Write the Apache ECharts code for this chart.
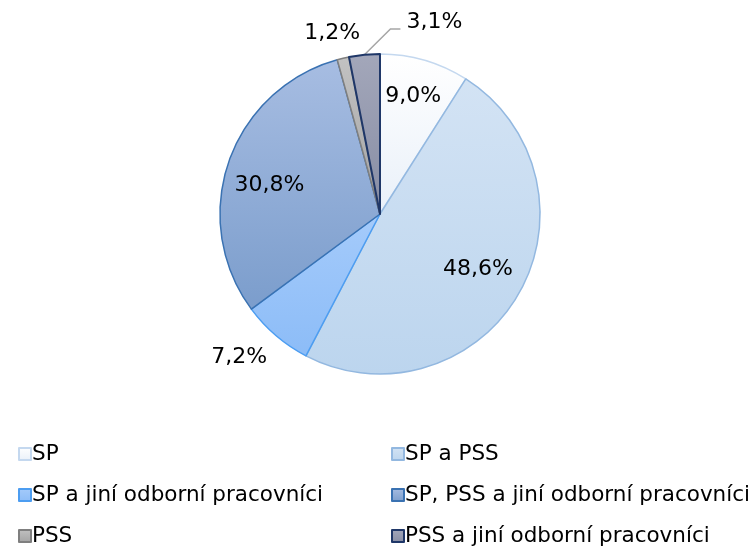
<!DOCTYPE html>
<html>
<head>
<meta charset="utf-8">
<script src="https://cdn.jsdelivr.net/npm/echarts@6/dist/echarts.min.js"></script>
<style>
html,body{margin:0;padding:0;background:#fff;}
#chart{width:755px;height:547px;}
</style>
</head>
<body>
<div id="chart"></div>
<script>
// kategorie a podily (%)
var categories = ['SP', 'SP a PSS', 'SP a jiní odborní pracovníci', 'SP, PSS a jiní odborní pracovníci', 'PSS', 'PSS a jiní odborní pracovníci'];
var values = [9.0, 48.6, 7.2, 30.8, 1.2, 3.1];
var labelsText = ['9,0%', '48,6%', '7,2%', '30,8%', '1,2%', '3,1%'];

// barvy: [nahore, dole, okraj]
var sliceColors = [
	['#ffffff', '#e9f0f9', '#c4d8ef'],
	['#d3e3f4', '#bcd5ee', '#93b8e0'],
	['#a5cbfb', '#8cbcf7', '#4c9df1'],
	['#a7bde2', '#7b9dcc', '#3a72b2'],
	['#c2c2c2', '#a3a3a3', '#7f7f7f'],
	['#a3a7ba', '#878da4', '#1f3768']
];

var insideIdx = [0, 1, 3];
var FONT = 'DejaVu Sans';
var CENTER = [380, 214];
var R = 160;

function grad(c){
	return {type:'linear', x:0, y:0, x2:0, y2:1, colorStops:[{offset:0,color:c[0]},{offset:1,color:c[1]}]};
}

var mainData = [];
var overlayData = [];
for (var i = 0; i < categories.length; i++) {
	var inside = insideIdx.indexOf(i) >= 0;
	mainData.push({
		name: categories[i],
		value: values[i],
		itemStyle: {color: grad(sliceColors[i]), borderColor: sliceColors[i][2], borderWidth: i == 5 ? 2 : 1.5},
		label: {show: !inside},
		labelLine: {show: i == 5, length: i == 2 ? 29 : 26, length2: 0}
	});
	overlayData.push({
		name: categories[i],
		value: values[i],
		label: {show: inside}
	});
}

var legendText = {fontFamily: FONT, fontSize: 21.5, color: '#000', lineHeight: 22, padding: [0,0,0,-4]};

var chart = echarts.init(document.getElementById('chart'));
chart.setOption({
	animation: false,
	legend: [
		{
			orient: 'vertical', left: 13, top: 438, height: 140,
			data: [categories[0], categories[2], categories[4]],
			icon: 'rect', itemWidth: 12, itemHeight: 12, itemGap: 19,
			textStyle: legendText
		},
		{
			orient: 'vertical', left: 386, top: 438, height: 140,
			data: [categories[1], categories[3], categories[5]],
			icon: 'rect', itemWidth: 12, itemHeight: 12, itemGap: 19,
			textStyle: legendText
		}
	],
	series: [
		{
			type: 'pie',
			center: CENTER,
			radius: [0, R],
			startAngle: 90,
			clockwise: true,
			avoidLabelOverlap: false,
			data: mainData,
			label: {
				position: 'outside',
				fontFamily: FONT, fontSize: 22, color: '#000',
				formatter: function(p){ return labelsText[p.dataIndex]; }
			},
			labelLine: {lineStyle: {color: '#a6a6a6', width: 1.5}, smooth: false},
			labelLayout: function(p){
				if (p.dataIndex == 2) return {dx: 15};
				if (p.dataIndex == 4) return {dx: 28};
				if (p.dataIndex == 5 && p.labelLinePoints) {
					var a = p.labelLinePoints[0];
					var y = p.labelLinePoints[1][1];
					return {
						x: a[0] + 42, y: y - 7, align: 'left', verticalAlign: 'middle',
						labelLinePoints: [a, [a[0] + 26, y], [a[0] + 36, y]]
					};
				}
			},
			emphasis: {disabled: true}
		},
		{
			type: 'pie',
			center: CENTER,
			radius: [0, 232],
			startAngle: 90,
			clockwise: true,
			silent: true,
			avoidLabelOverlap: false,
			itemStyle: {color: 'rgba(0,0,0,0)', borderWidth: 0},
			label: {
				position: 'inside',
				fontFamily: FONT, fontSize: 22, color: '#000',
				formatter: function(p){ return labelsText[p.dataIndex]; }
			},
			labelLine: {show: false},
			labelLayout: function(p){
				if (p.dataIndex == 0) return {dy: -3};
				if (p.dataIndex == 1) return {dx: -5, dy: -4};
				if (p.dataIndex == 3) return {dx: 2, dy: 10};
			},
			data: overlayData
		}
	]
});
</script>
</body>
</html>
